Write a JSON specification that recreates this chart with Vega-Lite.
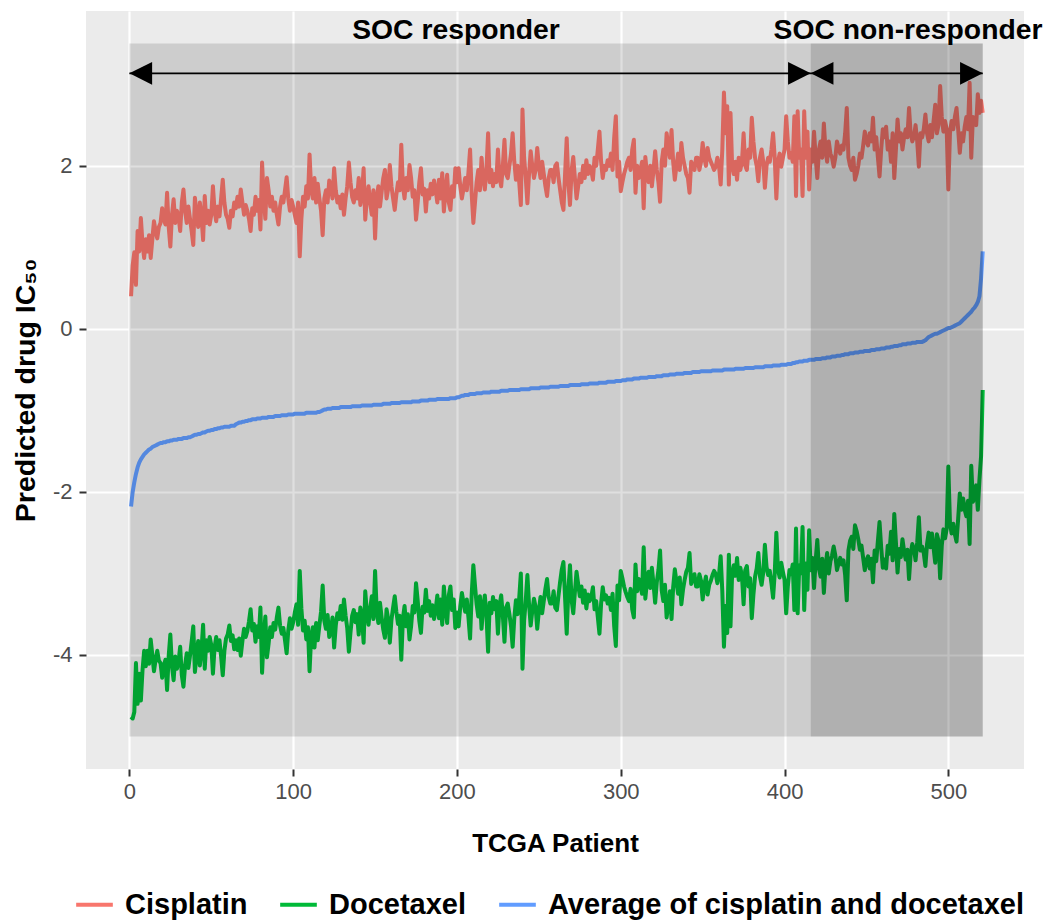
{
"$schema": "https://vega.github.io/schema/vega-lite/v6.json",
"width": 938, "height": 758,
"autosize": "none",
"padding": {"left": 86, "top": 11, "right": 22, "bottom": 153},
"background": "white",
"config": {
 "view": {"fill": "#EBEBEB", "stroke": null},
 "font": "Liberation Sans",
 "axis": {"domain": false, "grid": true, "gridColor": "white", "gridWidth": 2.2, "gridOpacity": 1, "tickColor": "#333333", "tickWidth": 2, "tickSize": 7, "labelFont": "Liberation Sans", "labelFontSize": 22, "labelColor": "#4D4D4D", "titleFont": "Liberation Sans", "titleFontSize": 26, "titleFontWeight": "bold", "titleColor": "black"}
},
"datasets": {"pts": [
{"x":1,"a":-2.18,"c":0.40,"d":-4.76},{"x":2,"a":-2.00,"c":0.78,"d":-4.78},{"x":3,"a":-1.88,"c":0.94,"d":-4.70},{"x":4,"a":-1.78,"c":0.54,"d":-4.10},{"x":5,"a":-1.70,"c":1.20,"d":-4.60},{"x":6,"a":-1.64,"c":0.95,"d":-4.23},{"x":7,"a":-1.60,"c":1.36,"d":-4.56},{"x":8,"a":-1.57,"c":1.05,"d":-4.19},{"x":9,"a":-1.54,"c":0.87,"d":-3.95},{"x":10,"a":-1.52,"c":1.10,"d":-4.14},
{"x":11,"a":-1.50,"c":0.95,"d":-3.95},{"x":12,"a":-1.48,"c":1.15,"d":-4.11},{"x":13,"a":-1.47,"c":0.87,"d":-3.81},{"x":14,"a":-1.45,"c":1.10,"d":-4.00},{"x":15,"a":-1.44,"c":1.32,"d":-4.20},{"x":16,"a":-1.43,"c":1.20,"d":-4.06},{"x":17,"a":-1.42,"c":1.11,"d":-3.95},{"x":18,"a":-1.41,"c":1.25,"d":-4.07},{"x":19,"a":-1.40,"c":1.30,"d":-4.10},{"x":20,"a":-1.40,"c":1.48,"d":-4.28},
{"x":21,"a":-1.39,"c":1.35,"d":-4.13},{"x":22,"a":-1.39,"c":1.28,"d":-4.06},{"x":23,"a":-1.38,"c":1.67,"d":-4.43},{"x":24,"a":-1.38,"c":1.25,"d":-4.01},{"x":25,"a":-1.37,"c":1.01,"d":-3.75},{"x":26,"a":-1.37,"c":1.40,"d":-4.14},{"x":27,"a":-1.36,"c":1.59,"d":-4.31},{"x":28,"a":-1.36,"c":1.30,"d":-4.02},{"x":29,"a":-1.36,"c":1.45,"d":-4.17},{"x":30,"a":-1.35,"c":1.38,"d":-4.08},
{"x":31,"a":-1.35,"c":1.20,"d":-3.90},{"x":32,"a":-1.35,"c":1.55,"d":-4.25},{"x":33,"a":-1.34,"c":1.71,"d":-4.39},{"x":34,"a":-1.34,"c":1.45,"d":-4.13},{"x":35,"a":-1.34,"c":1.30,"d":-3.98},{"x":36,"a":-1.33,"c":1.50,"d":-4.16},{"x":37,"a":-1.33,"c":1.35,"d":-4.01},{"x":38,"a":-1.32,"c":1.20,"d":-3.84},{"x":39,"a":-1.31,"c":1.03,"d":-3.65},{"x":40,"a":-1.30,"c":1.61,"d":-4.21},
{"x":41,"a":-1.30,"c":1.40,"d":-4.00},{"x":42,"a":-1.29,"c":1.25,"d":-3.83},{"x":43,"a":-1.29,"c":1.55,"d":-4.13},{"x":44,"a":-1.28,"c":1.38,"d":-3.94},{"x":45,"a":-1.27,"c":1.09,"d":-3.63},{"x":46,"a":-1.27,"c":1.63,"d":-4.17},{"x":47,"a":-1.26,"c":1.30,"d":-3.82},{"x":48,"a":-1.25,"c":1.45,"d":-3.95},{"x":49,"a":-1.25,"c":1.28,"d":-3.78},{"x":50,"a":-1.24,"c":1.40,"d":-3.88},
{"x":51,"a":-1.24,"c":1.75,"d":-4.23},{"x":52,"a":-1.23,"c":1.45,"d":-3.91},{"x":53,"a":-1.23,"c":1.32,"d":-3.78},{"x":54,"a":-1.22,"c":1.50,"d":-3.94},{"x":55,"a":-1.22,"c":1.38,"d":-3.82},{"x":56,"a":-1.21,"c":1.60,"d":-4.02},{"x":57,"a":-1.21,"c":1.83,"d":-4.25},{"x":58,"a":-1.20,"c":1.55,"d":-3.95},{"x":59,"a":-1.20,"c":1.40,"d":-3.80},{"x":60,"a":-1.20,"c":1.35,"d":-3.75},
{"x":61,"a":-1.20,"c":1.24,"d":-3.64},{"x":62,"a":-1.19,"c":1.45,"d":-3.83},{"x":63,"a":-1.19,"c":1.38,"d":-3.76},{"x":64,"a":-1.19,"c":1.55,"d":-3.93},{"x":65,"a":-1.17,"c":1.48,"d":-3.82},{"x":66,"a":-1.16,"c":1.62,"d":-3.94},{"x":67,"a":-1.15,"c":1.50,"d":-3.80},{"x":68,"a":-1.15,"c":1.71,"d":-4.01},{"x":69,"a":-1.14,"c":1.55,"d":-3.83},{"x":70,"a":-1.14,"c":1.40,"d":-3.68},
{"x":71,"a":-1.13,"c":1.52,"d":-3.78},{"x":72,"a":-1.13,"c":1.45,"d":-3.71},{"x":73,"a":-1.12,"c":1.35,"d":-3.59},{"x":74,"a":-1.12,"c":1.20,"d":-3.44},{"x":75,"a":-1.11,"c":1.48,"d":-3.70},{"x":76,"a":-1.11,"c":1.40,"d":-3.62},{"x":77,"a":-1.11,"c":1.62,"d":-3.84},{"x":78,"a":-1.10,"c":1.45,"d":-3.65},{"x":79,"a":-1.10,"c":1.58,"d":-3.78},{"x":80,"a":-1.10,"c":1.22,"d":-3.42},
{"x":81,"a":-1.09,"c":2.04,"d":-4.22},{"x":82,"a":-1.09,"c":1.60,"d":-3.78},{"x":83,"a":-1.09,"c":1.35,"d":-3.53},{"x":84,"a":-1.09,"c":1.85,"d":-4.03},{"x":85,"a":-1.08,"c":1.70,"d":-3.86},{"x":86,"a":-1.08,"c":1.50,"d":-3.66},{"x":87,"a":-1.08,"c":1.62,"d":-3.78},{"x":88,"a":-1.08,"c":1.45,"d":-3.61},{"x":89,"a":-1.07,"c":1.55,"d":-3.69},{"x":90,"a":-1.07,"c":1.40,"d":-3.54},
{"x":91,"a":-1.07,"c":1.28,"d":-3.42},{"x":92,"a":-1.07,"c":1.50,"d":-3.64},{"x":93,"a":-1.06,"c":1.62,"d":-3.74},{"x":94,"a":-1.06,"c":1.55,"d":-3.67},{"x":95,"a":-1.06,"c":1.70,"d":-3.82},{"x":96,"a":-1.06,"c":1.86,"d":-3.98},{"x":97,"a":-1.05,"c":1.60,"d":-3.70},{"x":98,"a":-1.05,"c":1.45,"d":-3.55},{"x":99,"a":-1.05,"c":1.58,"d":-3.68},{"x":100,"a":-1.05,"c":1.50,"d":-3.60},
{"x":101,"a":-1.04,"c":1.40,"d":-3.48},{"x":102,"a":-1.04,"c":1.30,"d":-3.38},{"x":103,"a":-1.04,"c":1.55,"d":-3.63},{"x":104,"a":-1.04,"c":0.89,"d":-2.97},{"x":105,"a":-1.04,"c":1.35,"d":-3.43},{"x":106,"a":-1.04,"c":1.62,"d":-3.70},{"x":107,"a":-1.04,"c":1.50,"d":-3.58},{"x":108,"a":-1.03,"c":1.75,"d":-3.81},{"x":109,"a":-1.03,"c":1.60,"d":-3.66},{"x":110,"a":-1.03,"c":2.14,"d":-4.20},
{"x":111,"a":-1.03,"c":1.70,"d":-3.76},{"x":112,"a":-1.03,"c":1.60,"d":-3.66},{"x":113,"a":-1.03,"c":1.85,"d":-3.91},{"x":114,"a":-1.03,"c":1.55,"d":-3.61},{"x":115,"a":-1.02,"c":1.78,"d":-3.82},{"x":116,"a":-1.02,"c":1.60,"d":-3.64},{"x":117,"a":-1.01,"c":1.45,"d":-3.47},{"x":118,"a":-1.00,"c":1.15,"d":-3.15},{"x":119,"a":-0.99,"c":1.60,"d":-3.58},{"x":120,"a":-0.99,"c":1.70,"d":-3.68},
{"x":121,"a":-0.98,"c":1.55,"d":-3.51},{"x":122,"a":-0.98,"c":1.82,"d":-3.78},{"x":123,"a":-0.98,"c":1.75,"d":-3.71},{"x":124,"a":-0.97,"c":1.60,"d":-3.54},{"x":125,"a":-0.97,"c":1.97,"d":-3.91},{"x":126,"a":-0.97,"c":1.70,"d":-3.64},{"x":127,"a":-0.97,"c":1.55,"d":-3.49},{"x":128,"a":-0.97,"c":1.62,"d":-3.56},{"x":129,"a":-0.96,"c":1.48,"d":-3.40},{"x":130,"a":-0.96,"c":1.65,"d":-3.57},
{"x":131,"a":-0.96,"c":1.40,"d":-3.32},{"x":132,"a":-0.96,"c":1.60,"d":-3.52},{"x":133,"a":-0.96,"c":1.75,"d":-3.67},{"x":134,"a":-0.96,"c":2.04,"d":-3.96},{"x":135,"a":-0.96,"c":1.80,"d":-3.72},{"x":136,"a":-0.95,"c":1.62,"d":-3.52},{"x":137,"a":-0.95,"c":1.55,"d":-3.45},{"x":138,"a":-0.95,"c":1.70,"d":-3.60},{"x":139,"a":-0.95,"c":1.60,"d":-3.50},{"x":140,"a":-0.95,"c":1.85,"d":-3.75},
{"x":141,"a":-0.95,"c":1.52,"d":-3.42},{"x":142,"a":-0.94,"c":1.65,"d":-3.53},{"x":143,"a":-0.94,"c":1.97,"d":-3.85},{"x":144,"a":-0.94,"c":1.34,"d":-3.22},{"x":145,"a":-0.94,"c":1.60,"d":-3.48},{"x":146,"a":-0.94,"c":1.75,"d":-3.63},{"x":147,"a":-0.94,"c":1.55,"d":-3.43},{"x":148,"a":-0.94,"c":1.40,"d":-3.28},{"x":149,"a":-0.93,"c":1.70,"d":-3.56},{"x":150,"a":-0.93,"c":1.11,"d":-2.97},
{"x":151,"a":-0.93,"c":1.60,"d":-3.46},{"x":152,"a":-0.93,"c":1.75,"d":-3.61},{"x":153,"a":-0.93,"c":1.50,"d":-3.36},{"x":154,"a":-0.93,"c":1.68,"d":-3.54},{"x":155,"a":-0.92,"c":1.85,"d":-3.69},{"x":156,"a":-0.92,"c":1.95,"d":-3.79},{"x":157,"a":-0.92,"c":1.60,"d":-3.44},{"x":158,"a":-0.92,"c":1.72,"d":-3.56},{"x":159,"a":-0.92,"c":2.01,"d":-3.85},{"x":160,"a":-0.91,"c":1.75,"d":-3.57},
{"x":161,"a":-0.91,"c":1.60,"d":-3.42},{"x":162,"a":-0.91,"c":1.46,"d":-3.28},{"x":163,"a":-0.91,"c":1.65,"d":-3.47},{"x":164,"a":-0.91,"c":1.80,"d":-3.62},{"x":165,"a":-0.91,"c":1.70,"d":-3.52},{"x":166,"a":-0.90,"c":2.26,"d":-4.06},{"x":167,"a":-0.90,"c":1.75,"d":-3.55},{"x":168,"a":-0.90,"c":1.60,"d":-3.40},{"x":169,"a":-0.90,"c":1.85,"d":-3.65},{"x":170,"a":-0.90,"c":1.70,"d":-3.50},
{"x":171,"a":-0.90,"c":2.01,"d":-3.81},{"x":172,"a":-0.90,"c":1.85,"d":-3.65},{"x":173,"a":-0.89,"c":1.62,"d":-3.40},{"x":174,"a":-0.89,"c":1.70,"d":-3.48},{"x":175,"a":-0.89,"c":1.34,"d":-3.12},{"x":176,"a":-0.89,"c":1.55,"d":-3.33},{"x":177,"a":-0.89,"c":1.80,"d":-3.58},{"x":178,"a":-0.88,"c":1.97,"d":-3.73},{"x":179,"a":-0.88,"c":1.65,"d":-3.41},{"x":180,"a":-0.88,"c":1.72,"d":-3.48},
{"x":181,"a":-0.88,"c":1.44,"d":-3.20},{"x":182,"a":-0.88,"c":1.70,"d":-3.46},{"x":183,"a":-0.87,"c":1.60,"d":-3.34},{"x":184,"a":-0.87,"c":1.78,"d":-3.52},{"x":185,"a":-0.87,"c":1.65,"d":-3.39},{"x":186,"a":-0.87,"c":1.82,"d":-3.56},{"x":187,"a":-0.87,"c":1.70,"d":-3.44},{"x":188,"a":-0.86,"c":1.55,"d":-3.27},{"x":189,"a":-0.86,"c":1.83,"d":-3.55},{"x":190,"a":-0.86,"c":1.60,"d":-3.32},
{"x":191,"a":-0.86,"c":1.91,"d":-3.63},{"x":192,"a":-0.86,"c":1.44,"d":-3.16},{"x":193,"a":-0.86,"c":1.70,"d":-3.42},{"x":194,"a":-0.86,"c":1.89,"d":-3.61},{"x":195,"a":-0.86,"c":1.55,"d":-3.27},{"x":196,"a":-0.85,"c":1.46,"d":-3.16},{"x":197,"a":-0.85,"c":1.75,"d":-3.45},{"x":198,"a":-0.85,"c":1.62,"d":-3.32},{"x":199,"a":-0.85,"c":1.97,"d":-3.67},{"x":200,"a":-0.84,"c":1.80,"d":-3.48},
{"x":201,"a":-0.84,"c":1.97,"d":-3.65},{"x":202,"a":-0.83,"c":1.75,"d":-3.41},{"x":203,"a":-0.82,"c":1.60,"d":-3.24},{"x":204,"a":-0.82,"c":1.72,"d":-3.36},{"x":205,"a":-0.81,"c":1.85,"d":-3.47},{"x":206,"a":-0.81,"c":1.70,"d":-3.32},{"x":207,"a":-0.81,"c":1.92,"d":-3.54},{"x":208,"a":-0.80,"c":2.20,"d":-3.80},{"x":209,"a":-0.80,"c":1.65,"d":-3.25},{"x":210,"a":-0.80,"c":1.30,"d":-2.90},
{"x":211,"a":-0.80,"c":1.55,"d":-3.15},{"x":212,"a":-0.79,"c":1.80,"d":-3.38},{"x":213,"a":-0.79,"c":1.95,"d":-3.53},{"x":214,"a":-0.79,"c":1.70,"d":-3.28},{"x":215,"a":-0.79,"c":2.10,"d":-3.68},{"x":216,"a":-0.78,"c":1.85,"d":-3.41},{"x":217,"a":-0.78,"c":1.71,"d":-3.27},{"x":218,"a":-0.78,"c":1.95,"d":-3.51},{"x":219,"a":-0.78,"c":2.40,"d":-3.96},{"x":220,"a":-0.78,"c":1.80,"d":-3.36},
{"x":221,"a":-0.77,"c":1.95,"d":-3.49},{"x":222,"a":-0.77,"c":1.75,"d":-3.29},{"x":223,"a":-0.77,"c":1.90,"d":-3.44},{"x":224,"a":-0.77,"c":1.80,"d":-3.34},{"x":225,"a":-0.77,"c":2.20,"d":-3.74},{"x":226,"a":-0.77,"c":1.85,"d":-3.39},{"x":227,"a":-0.76,"c":1.75,"d":-3.27},{"x":228,"a":-0.76,"c":2.00,"d":-3.52},{"x":229,"a":-0.76,"c":2.32,"d":-3.84},{"x":230,"a":-0.76,"c":1.90,"d":-3.42},
{"x":231,"a":-0.76,"c":1.85,"d":-3.37},{"x":232,"a":-0.75,"c":2.00,"d":-3.50},{"x":233,"a":-0.75,"c":2.15,"d":-3.65},{"x":234,"a":-0.75,"c":2.40,"d":-3.90},{"x":235,"a":-0.75,"c":2.05,"d":-3.55},{"x":236,"a":-0.75,"c":1.83,"d":-3.33},{"x":237,"a":-0.75,"c":2.00,"d":-3.50},{"x":238,"a":-0.75,"c":1.80,"d":-3.30},{"x":239,"a":-0.74,"c":1.52,"d":-3.00},{"x":240,"a":-0.74,"c":2.69,"d":-4.17},
{"x":241,"a":-0.74,"c":2.10,"d":-3.58},{"x":242,"a":-0.74,"c":1.85,"d":-3.33},{"x":243,"a":-0.74,"c":1.54,"d":-3.02},{"x":244,"a":-0.74,"c":1.90,"d":-3.38},{"x":245,"a":-0.73,"c":2.18,"d":-3.64},{"x":246,"a":-0.73,"c":2.00,"d":-3.46},{"x":247,"a":-0.73,"c":1.85,"d":-3.31},{"x":248,"a":-0.73,"c":1.95,"d":-3.41},{"x":249,"a":-0.73,"c":2.22,"d":-3.68},{"x":250,"a":-0.73,"c":2.00,"d":-3.46},
{"x":251,"a":-0.72,"c":1.85,"d":-3.29},{"x":252,"a":-0.72,"c":2.05,"d":-3.49},{"x":253,"a":-0.72,"c":1.90,"d":-3.34},{"x":254,"a":-0.72,"c":1.75,"d":-3.19},{"x":255,"a":-0.72,"c":1.63,"d":-3.07},{"x":256,"a":-0.72,"c":1.85,"d":-3.29},{"x":257,"a":-0.71,"c":1.95,"d":-3.37},{"x":258,"a":-0.71,"c":1.95,"d":-3.37},{"x":259,"a":-0.71,"c":1.80,"d":-3.22},{"x":260,"a":-0.71,"c":2.00,"d":-3.42},
{"x":261,"a":-0.71,"c":2.03,"d":-3.45},{"x":262,"a":-0.71,"c":1.85,"d":-3.27},{"x":263,"a":-0.70,"c":1.70,"d":-3.10},{"x":264,"a":-0.70,"c":1.55,"d":-2.95},{"x":265,"a":-0.70,"c":1.46,"d":-2.86},{"x":266,"a":-0.70,"c":1.90,"d":-3.30},{"x":267,"a":-0.70,"c":2.34,"d":-3.74},{"x":268,"a":-0.70,"c":1.80,"d":-3.20},{"x":269,"a":-0.69,"c":1.52,"d":-2.90},{"x":270,"a":-0.69,"c":1.95,"d":-3.33},
{"x":271,"a":-0.69,"c":2.11,"d":-3.49},{"x":272,"a":-0.69,"c":1.85,"d":-3.23},{"x":273,"a":-0.69,"c":1.60,"d":-2.98},{"x":274,"a":-0.69,"c":1.75,"d":-3.13},{"x":275,"a":-0.69,"c":1.90,"d":-3.28},{"x":276,"a":-0.68,"c":1.80,"d":-3.16},{"x":277,"a":-0.68,"c":2.00,"d":-3.36},{"x":278,"a":-0.68,"c":1.85,"d":-3.21},{"x":279,"a":-0.68,"c":2.07,"d":-3.43},{"x":280,"a":-0.68,"c":1.90,"d":-3.26},
{"x":281,"a":-0.67,"c":2.00,"d":-3.34},{"x":282,"a":-0.67,"c":1.95,"d":-3.29},{"x":283,"a":-0.67,"c":1.83,"d":-3.17},{"x":284,"a":-0.67,"c":2.10,"d":-3.44},{"x":285,"a":-0.67,"c":2.00,"d":-3.34},{"x":286,"a":-0.67,"c":2.20,"d":-3.54},{"x":287,"a":-0.66,"c":2.42,"d":-3.74},{"x":288,"a":-0.66,"c":2.05,"d":-3.37},{"x":289,"a":-0.66,"c":1.85,"d":-3.17},{"x":290,"a":-0.66,"c":2.00,"d":-3.32},
{"x":291,"a":-0.66,"c":1.95,"d":-3.27},{"x":292,"a":-0.65,"c":2.07,"d":-3.37},{"x":293,"a":-0.65,"c":2.00,"d":-3.30},{"x":294,"a":-0.65,"c":2.15,"d":-3.45},{"x":295,"a":-0.65,"c":1.95,"d":-3.25},{"x":296,"a":-0.65,"c":2.35,"d":-3.65},{"x":297,"a":-0.64,"c":2.61,"d":-3.89},{"x":298,"a":-0.64,"c":1.87,"d":-3.15},{"x":299,"a":-0.64,"c":2.05,"d":-3.33},{"x":300,"a":-0.64,"c":1.69,"d":-2.97},
{"x":301,"a":-0.63,"c":1.80,"d":-3.06},{"x":302,"a":-0.63,"c":1.90,"d":-3.16},{"x":303,"a":-0.63,"c":1.97,"d":-3.23},{"x":304,"a":-0.62,"c":2.05,"d":-3.29},{"x":305,"a":-0.62,"c":2.10,"d":-3.34},{"x":306,"a":-0.62,"c":1.95,"d":-3.19},{"x":307,"a":-0.62,"c":2.20,"d":-3.44},{"x":308,"a":-0.61,"c":2.32,"d":-3.54},{"x":309,"a":-0.61,"c":1.67,"d":-2.89},{"x":310,"a":-0.61,"c":2.00,"d":-3.22},
{"x":311,"a":-0.61,"c":1.85,"d":-3.07},{"x":312,"a":-0.60,"c":1.95,"d":-3.15},{"x":313,"a":-0.60,"c":2.05,"d":-3.25},{"x":314,"a":-0.60,"c":1.48,"d":-2.68},{"x":315,"a":-0.60,"c":2.11,"d":-3.31},{"x":316,"a":-0.60,"c":1.90,"d":-3.10},{"x":317,"a":-0.59,"c":1.80,"d":-2.98},{"x":318,"a":-0.59,"c":2.00,"d":-3.18},{"x":319,"a":-0.59,"c":1.75,"d":-2.93},{"x":320,"a":-0.59,"c":1.95,"d":-3.13},
{"x":321,"a":-0.59,"c":2.18,"d":-3.36},{"x":322,"a":-0.58,"c":1.95,"d":-3.11},{"x":323,"a":-0.58,"c":1.80,"d":-2.96},{"x":324,"a":-0.58,"c":1.56,"d":-2.72},{"x":325,"a":-0.58,"c":2.05,"d":-3.21},{"x":326,"a":-0.57,"c":2.20,"d":-3.34},{"x":327,"a":-0.57,"c":2.00,"d":-3.14},{"x":328,"a":-0.57,"c":2.40,"d":-3.54},{"x":329,"a":-0.57,"c":2.25,"d":-3.39},{"x":330,"a":-0.56,"c":2.10,"d":-3.22},
{"x":331,"a":-0.56,"c":2.44,"d":-3.56},{"x":332,"a":-0.56,"c":2.05,"d":-3.17},{"x":333,"a":-0.56,"c":1.83,"d":-2.95},{"x":334,"a":-0.55,"c":2.00,"d":-3.10},{"x":335,"a":-0.55,"c":2.15,"d":-3.25},{"x":336,"a":-0.55,"c":1.95,"d":-3.05},{"x":337,"a":-0.55,"c":2.28,"d":-3.38},{"x":338,"a":-0.55,"c":2.10,"d":-3.20},{"x":339,"a":-0.54,"c":2.00,"d":-3.08},{"x":340,"a":-0.54,"c":1.90,"d":-2.98},
{"x":341,"a":-0.54,"c":1.85,"d":-2.93},{"x":342,"a":-0.54,"c":1.67,"d":-2.75},{"x":343,"a":-0.54,"c":2.05,"d":-3.13},{"x":344,"a":-0.53,"c":2.00,"d":-3.06},{"x":345,"a":-0.53,"c":1.95,"d":-3.01},{"x":346,"a":-0.53,"c":2.10,"d":-3.16},{"x":347,"a":-0.53,"c":2.10,"d":-3.16},{"x":348,"a":-0.53,"c":1.95,"d":-3.01},{"x":349,"a":-0.52,"c":2.05,"d":-3.09},{"x":350,"a":-0.52,"c":2.28,"d":-3.32},
{"x":351,"a":-0.52,"c":2.10,"d":-3.14},{"x":352,"a":-0.52,"c":2.00,"d":-3.04},{"x":353,"a":-0.52,"c":2.22,"d":-3.26},{"x":354,"a":-0.52,"c":2.10,"d":-3.14},{"x":355,"a":-0.52,"c":2.05,"d":-3.09},{"x":356,"a":-0.51,"c":2.00,"d":-3.02},{"x":357,"a":-0.51,"c":1.95,"d":-2.97},{"x":358,"a":-0.51,"c":1.99,"d":-3.01},{"x":359,"a":-0.51,"c":2.10,"d":-3.12},{"x":360,"a":-0.51,"c":2.00,"d":-3.02},
{"x":361,"a":-0.51,"c":1.77,"d":-2.79},{"x":362,"a":-0.51,"c":2.20,"d":-3.22},{"x":363,"a":-0.50,"c":2.90,"d":-3.90},{"x":364,"a":-0.50,"c":2.40,"d":-3.40},{"x":365,"a":-0.50,"c":2.73,"d":-3.73},{"x":366,"a":-0.50,"c":1.77,"d":-2.77},{"x":367,"a":-0.50,"c":2.65,"d":-3.65},{"x":368,"a":-0.50,"c":2.00,"d":-3.00},{"x":369,"a":-0.50,"c":1.90,"d":-2.90},{"x":370,"a":-0.49,"c":2.05,"d":-3.03},
{"x":371,"a":-0.49,"c":1.83,"d":-2.81},{"x":372,"a":-0.49,"c":2.10,"d":-3.08},{"x":373,"a":-0.49,"c":1.95,"d":-2.93},{"x":374,"a":-0.49,"c":2.05,"d":-3.03},{"x":375,"a":-0.49,"c":2.40,"d":-3.38},{"x":376,"a":-0.48,"c":2.00,"d":-2.96},{"x":377,"a":-0.48,"c":1.95,"d":-2.91},{"x":378,"a":-0.48,"c":2.20,"d":-3.16},{"x":379,"a":-0.48,"c":2.10,"d":-3.06},{"x":380,"a":-0.48,"c":2.59,"d":-3.55},
{"x":381,"a":-0.48,"c":2.30,"d":-3.26},{"x":382,"a":-0.47,"c":2.10,"d":-3.04},{"x":383,"a":-0.47,"c":2.00,"d":-2.94},{"x":384,"a":-0.47,"c":1.81,"d":-2.75},{"x":385,"a":-0.47,"c":2.10,"d":-3.04},{"x":386,"a":-0.47,"c":2.20,"d":-3.14},{"x":387,"a":-0.47,"c":2.05,"d":-2.99},{"x":388,"a":-0.46,"c":1.73,"d":-2.65},{"x":389,"a":-0.46,"c":2.00,"d":-2.92},{"x":390,"a":-0.46,"c":2.10,"d":-3.02},
{"x":391,"a":-0.46,"c":2.05,"d":-2.97},{"x":392,"a":-0.46,"c":2.20,"d":-3.12},{"x":393,"a":-0.45,"c":2.40,"d":-3.30},{"x":394,"a":-0.45,"c":2.10,"d":-3.00},{"x":395,"a":-0.45,"c":1.60,"d":-2.50},{"x":396,"a":-0.45,"c":2.05,"d":-2.95},{"x":397,"a":-0.45,"c":2.15,"d":-3.05},{"x":398,"a":-0.44,"c":1.99,"d":-2.87},{"x":399,"a":-0.44,"c":2.10,"d":-2.98},{"x":400,"a":-0.44,"c":2.20,"d":-3.08},
{"x":401,"a":-0.44,"c":2.61,"d":-3.49},{"x":402,"a":-0.43,"c":2.30,"d":-3.16},{"x":403,"a":-0.43,"c":2.10,"d":-2.96},{"x":404,"a":-0.43,"c":2.15,"d":-3.01},{"x":405,"a":-0.42,"c":2.05,"d":-2.89},{"x":406,"a":-0.42,"c":2.61,"d":-3.45},{"x":407,"a":-0.41,"c":1.63,"d":-2.45},{"x":408,"a":-0.41,"c":2.67,"d":-3.49},{"x":409,"a":-0.40,"c":2.10,"d":-2.90},{"x":410,"a":-0.40,"c":2.20,"d":-3.00},
{"x":411,"a":-0.40,"c":1.63,"d":-2.43},{"x":412,"a":-0.39,"c":2.67,"d":-3.45},{"x":413,"a":-0.39,"c":2.10,"d":-2.88},{"x":414,"a":-0.39,"c":2.42,"d":-3.20},{"x":415,"a":-0.38,"c":1.71,"d":-2.47},{"x":416,"a":-0.38,"c":2.20,"d":-2.96},{"x":417,"a":-0.38,"c":2.05,"d":-2.81},{"x":418,"a":-0.38,"c":2.42,"d":-3.18},{"x":419,"a":-0.37,"c":2.10,"d":-2.84},{"x":420,"a":-0.37,"c":1.85,"d":-2.59},
{"x":421,"a":-0.37,"c":2.20,"d":-2.94},{"x":422,"a":-0.37,"c":2.30,"d":-3.04},{"x":423,"a":-0.36,"c":2.10,"d":-2.82},{"x":424,"a":-0.36,"c":2.52,"d":-3.24},{"x":425,"a":-0.36,"c":2.20,"d":-2.92},{"x":426,"a":-0.35,"c":2.05,"d":-2.75},{"x":427,"a":-0.35,"c":2.30,"d":-3.00},{"x":428,"a":-0.35,"c":2.15,"d":-2.85},{"x":429,"a":-0.34,"c":2.10,"d":-2.78},{"x":430,"a":-0.34,"c":1.99,"d":-2.67},
{"x":431,"a":-0.34,"c":2.10,"d":-2.78},{"x":432,"a":-0.33,"c":2.30,"d":-2.96},{"x":433,"a":-0.33,"c":2.22,"d":-2.88},{"x":434,"a":-0.33,"c":2.15,"d":-2.81},{"x":435,"a":-0.32,"c":2.25,"d":-2.89},{"x":436,"a":-0.32,"c":2.20,"d":-2.84},{"x":437,"a":-0.31,"c":2.40,"d":-3.02},{"x":438,"a":-0.31,"c":2.71,"d":-3.33},{"x":439,"a":-0.31,"c":2.10,"d":-2.72},{"x":440,"a":-0.30,"c":2.00,"d":-2.60},
{"x":441,"a":-0.30,"c":1.95,"d":-2.55},{"x":442,"a":-0.30,"c":2.10,"d":-2.70},{"x":443,"a":-0.29,"c":1.83,"d":-2.41},{"x":444,"a":-0.29,"c":1.90,"d":-2.48},{"x":445,"a":-0.29,"c":2.00,"d":-2.58},{"x":446,"a":-0.28,"c":2.15,"d":-2.71},{"x":447,"a":-0.28,"c":2.10,"d":-2.66},{"x":448,"a":-0.28,"c":2.25,"d":-2.81},{"x":449,"a":-0.27,"c":2.42,"d":-2.96},{"x":450,"a":-0.27,"c":2.30,"d":-2.84},
{"x":451,"a":-0.27,"c":2.25,"d":-2.79},{"x":452,"a":-0.27,"c":2.40,"d":-2.94},{"x":453,"a":-0.26,"c":2.30,"d":-2.82},{"x":454,"a":-0.26,"c":2.59,"d":-3.11},{"x":455,"a":-0.26,"c":2.20,"d":-2.72},{"x":456,"a":-0.25,"c":2.35,"d":-2.85},{"x":457,"a":-0.25,"c":2.10,"d":-2.60},{"x":458,"a":-0.25,"c":1.87,"d":-2.37},{"x":459,"a":-0.24,"c":2.20,"d":-2.68},{"x":460,"a":-0.24,"c":2.45,"d":-2.93},
{"x":461,"a":-0.24,"c":2.35,"d":-2.83},{"x":462,"a":-0.23,"c":2.48,"d":-2.94},{"x":463,"a":-0.23,"c":2.20,"d":-2.66},{"x":464,"a":-0.23,"c":2.30,"d":-2.76},{"x":465,"a":-0.22,"c":2.05,"d":-2.49},{"x":466,"a":-0.22,"c":2.40,"d":-2.84},{"x":467,"a":-0.21,"c":1.85,"d":-2.27},{"x":468,"a":-0.21,"c":2.20,"d":-2.62},{"x":469,"a":-0.21,"c":2.57,"d":-2.99},{"x":470,"a":-0.20,"c":2.30,"d":-2.70},
{"x":471,"a":-0.20,"c":2.40,"d":-2.80},{"x":472,"a":-0.19,"c":2.20,"d":-2.58},{"x":473,"a":-0.19,"c":2.35,"d":-2.73},{"x":474,"a":-0.19,"c":2.45,"d":-2.83},{"x":475,"a":-0.18,"c":2.35,"d":-2.71},{"x":476,"a":-0.18,"c":2.71,"d":-3.07},{"x":477,"a":-0.18,"c":2.40,"d":-2.76},{"x":478,"a":-0.17,"c":2.30,"d":-2.64},{"x":479,"a":-0.17,"c":2.36,"d":-2.70},{"x":480,"a":-0.17,"c":2.50,"d":-2.84},
{"x":481,"a":-0.16,"c":2.30,"d":-2.62},{"x":482,"a":-0.16,"c":1.99,"d":-2.31},{"x":483,"a":-0.16,"c":2.40,"d":-2.72},{"x":484,"a":-0.16,"c":2.35,"d":-2.67},{"x":485,"a":-0.15,"c":2.45,"d":-2.75},{"x":486,"a":-0.14,"c":2.63,"d":-2.91},{"x":487,"a":-0.12,"c":2.40,"d":-2.64},{"x":488,"a":-0.10,"c":2.30,"d":-2.50},{"x":489,"a":-0.09,"c":2.50,"d":-2.68},{"x":490,"a":-0.08,"c":2.35,"d":-2.51},
{"x":491,"a":-0.07,"c":2.55,"d":-2.69},{"x":492,"a":-0.06,"c":2.75,"d":-2.87},{"x":493,"a":-0.06,"c":2.40,"d":-2.52},{"x":494,"a":-0.05,"c":2.50,"d":-2.60},{"x":495,"a":-0.04,"c":2.98,"d":-3.06},{"x":496,"a":-0.03,"c":2.60,"d":-2.66},{"x":497,"a":-0.02,"c":2.42,"d":-2.46},{"x":498,"a":-0.01,"c":2.55,"d":-2.57},{"x":499,"a":0.00,"c":2.45,"d":-2.45},{"x":500,"a":0.01,"c":1.71,"d":-1.69},
{"x":501,"a":0.01,"c":2.40,"d":-2.38},{"x":502,"a":0.02,"c":2.55,"d":-2.51},{"x":503,"a":0.03,"c":2.45,"d":-2.39},{"x":504,"a":0.04,"c":2.60,"d":-2.52},{"x":505,"a":0.05,"c":2.71,"d":-2.61},{"x":506,"a":0.06,"c":2.45,"d":-2.33},{"x":507,"a":0.07,"c":2.16,"d":-2.02},{"x":508,"a":0.09,"c":2.40,"d":-2.22},{"x":509,"a":0.11,"c":2.30,"d":-2.08},{"x":510,"a":0.13,"c":2.48,"d":-2.22},
{"x":511,"a":0.15,"c":2.60,"d":-2.30},{"x":512,"a":0.17,"c":2.45,"d":-2.11},{"x":513,"a":0.19,"c":3.02,"d":-2.64},{"x":514,"a":0.21,"c":2.10,"d":-1.68},{"x":515,"a":0.24,"c":2.60,"d":-2.12},{"x":516,"a":0.26,"c":2.59,"d":-2.07},{"x":517,"a":0.29,"c":2.50,"d":-1.92},{"x":518,"a":0.33,"c":2.88,"d":-2.22},{"x":519,"a":0.40,"c":2.65,"d":-1.85},{"x":520,"a":0.62,"c":2.80,"d":-1.56},
{"x":521,"a":0.95,"c":2.65,"d":-0.75}
]},
"encoding": {
 "x": {"field": "x", "type": "quantitative", "scale": {"domain": [-26.5, 546.2], "nice": false, "zero": false},
  "axis": {"values": [0, 100, 200, 300, 400, 500], "title": "TCGA Patient", "labelPadding": 5, "titlePadding": 28, "labelFlush": false, "labelOverlap": false}},
 "y": {"field": "y", "type": "quantitative", "scale": {"domain": [-5.4, 3.9], "nice": false, "zero": false},
  "axis": {"values": [-4, -2, 0, 2], "title": "Predicted drug IC₅₀", "titleFontSize": 28.5, "labelPadding": 7, "titlePadding": 12, "labelExpr": "datum.value + ''"}}
},
"layer": [
 {"data": {"values": [{"x": 50}, {"x": 150}, {"x": 250}, {"x": 350}, {"x": 450}]},
  "mark": {"type": "rule", "color": "white", "strokeWidth": 1.1},
  "encoding": {"y": {"datum": -5.4}, "y2": {"datum": 3.9}}},
 {"data": {"values": [{"y": -5}, {"y": -3}, {"y": -1}, {"y": 1}, {"y": 3}]},
  "mark": {"type": "rule", "color": "white", "strokeWidth": 1.1},
  "encoding": {"x": {"datum": -26.5}, "x2": {"datum": 546.2}}},
 {"data": {"name": "pts"},
  "transform": [{"fold": ["c", "d", "a"], "as": ["s", "y"]}],
  "mark": {"type": "line", "strokeWidth": 4, "strokeJoin": "round"},
  "encoding": {"color": {"field": "s", "type": "nominal",
   "scale": {"domain": ["c", "d", "a"], "range": ["#F8766D", "#00BA38", "#619CFF"]},
   "legend": {"orient": "none", "legendX": -12, "legendY": 873, "direction": "horizontal", "columns": 3, "title": null,
    "symbolType": "stroke", "symbolSize": 1344, "symbolStrokeWidth": 4, "labelFontSize": 29, "labelFontWeight": "bold", "labelColor": "black", "labelFont": "Liberation Sans",
    "labelOffset": 10, "columnPadding": 24, "labelLimit": 1000, "padding": 0,
    "labelExpr": "datum.label == 'c' ? 'Cisplatin' : datum.label == 'd' ? 'Docetaxel' : 'Average of cisplatin and docetaxel'"}}}},
 {"data": {"values": [{"x": 0, "x2": 416, "y": -5, "y2": 3.5, "k": "r"}, {"x": 416, "x2": 521, "y": -5, "y2": 3.5, "k": "n"}]},
  "mark": {"type": "rect", "color": "black"},
  "encoding": {"x2": {"field": "x2"}, "y2": {"field": "y2"},
   "opacity": {"field": "k", "type": "nominal", "scale": {"domain": ["r", "n"], "range": [0.125, 0.25]}, "legend": null}}},
 {"data": {"values": [{"x": 0, "x2": 521, "y": 3.135}]},
  "mark": {"type": "rule", "color": "black", "strokeWidth": 1.7},
  "encoding": {"x2": {"field": "x2"}}},
 {"data": {"values": [{"x": 0, "y": 3.135, "h": "l"}, {"x": 416, "y": 3.135, "h": "r"}, {"x": 416, "y": 3.135, "h": "l"}, {"x": 521, "y": 3.135, "h": "r"}]},
  "mark": {"type": "point", "filled": true, "color": "black", "opacity": 1, "size": 515, "strokeWidth": 0},
  "encoding": {"shape": {"field": "h", "type": "nominal", "scale": {"domain": ["l", "r"], "range": ["M0,0L2,-1L2,1Z", "M0,0L-2,-1L-2,1Z"]}, "legend": null}}},
 {"data": {"values": [{"x": 199.4, "y": 3.553, "t": "SOC responder"}, {"x": 475.4, "y": 3.553, "t": "SOC non-responder"}]},
  "mark": {"type": "text", "fontSize": 28.3, "fontWeight": "bold", "baseline": "alphabetic", "align": "center", "color": "black", "font": "Liberation Sans"},
  "encoding": {"text": {"field": "t"}}}
]
}
